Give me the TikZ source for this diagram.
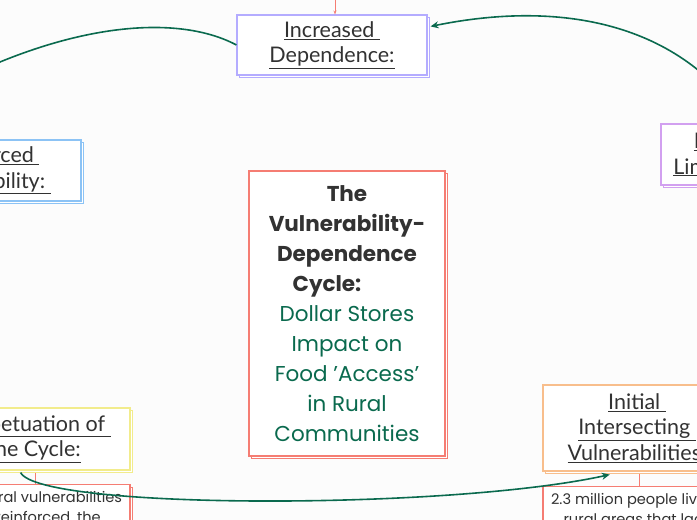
\documentclass[tikz,border=0pt]{standalone}
\usepackage{fontspec}
\setmainfont{Poppins}
\newfontfamily\titlefont{Lato}
\usetikzlibrary{arrows.meta,shadows}
\definecolor{dgreen}{RGB}{10,106,78}
\definecolor{tdark}{RGB}{50,50,50}
\definecolor{clav}{RGB}{180,172,255}
\definecolor{cblue}{RGB}{140,195,245}
\definecolor{cpurple}{RGB}{210,160,240}
\definecolor{csalmon}{RGB}{245,125,115}
\definecolor{cyellow}{RGB}{242,236,140}
\definecolor{corange}{RGB}{248,190,140}
\tikzset{
  box/.style={draw=#1, fill=white, line width=1.1pt,
    copy shadow={draw=#1, fill=white, line width=1.1pt, shadow xshift=2.5pt, shadow yshift=-2.5pt},
    inner sep=0pt, align=center, text=tdark},
  ttl/.style={font=\titlefont\fontsize{21.5}{25.5}\selectfont},
  bodytxt/.style={font=\fontsize{14.6}{20}\selectfont},
  cyc/.style={draw=dgreen, line width=1.6pt},
  redline/.style={draw=csalmon, line width=0.8pt}
}
\begin{document}
\begin{tikzpicture}[x=1pt,y=-1pt]
\useasboundingbox (0,0) rectangle (697,520);
\fill[white!99!black] (0,0) rectangle (697,520);
\clip (0,0) rectangle (697,520);

% boxes
\node[box=clav, ttl, minimum width=190pt, minimum height=60pt] (incdep) at (332,45)
  {\underline{Increased\ }\\\underline{Dependence:}};
\node[box=cblue, ttl, minimum width=190pt, minimum height=61pt] (reinf) at (-14,170.5)
  {\underline{Reinforced\ }\\\underline{Vulnerability:\ }};
\node[box=cpurple, ttl, minimum width=170pt, minimum height=61pt] (limit) at (746,154.5)
  {\underline{Intensified\ }\\\underline{Limited Access:}};
\node[box=csalmon, font=\fontsize{21.5}{30}\selectfont, minimum width=196pt, minimum height=285pt] (center) at (347,313.5)
  {\textbf{The}\\\textbf{Vulnerability-}\\\textbf{Dependence}\\\textbf{Cycle:}\mbox{}\hspace*{40pt}\mbox{}\\
   \textcolor{dgreen}{Dollar Stores}\\\textcolor{dgreen}{Impact on}\\\textcolor{dgreen}{Food 'Access'}\\\textcolor{dgreen}{in Rural}\\\textcolor{dgreen}{Communities}};
\node[box=cyellow, ttl, minimum width=192pt, minimum height=62pt] (perp) at (34,439)
  {\underline{Perpetuation of\ }\\\underline{the Cycle:}};
\node[box=csalmon, bodytxt, anchor=north, minimum width=192pt, minimum height=70pt] (perpbody) at (34,484)
  {\rule{0pt}{18pt}Structural vulnerabilities\\are reinforced, the\\[30pt]};
\node[box=corange, ttl, minimum width=188pt, minimum height=86pt] (init) at (637,428)
  {\underline{Initial\ }\\\underline{Intersecting\ }\\\underline{Vulnerabilities:}};
\node[box=csalmon, bodytxt, anchor=north, minimum width=188pt, minimum height=70pt] (initbody) at (637,486)
  {\rule{0pt}{18pt}2.3 million people live in\\rural areas that lack\\[30pt]};

% red connectors
\coordinate (topsrc) at (335,-10);
\draw[redline, -{Stealth[length=4pt,width=3pt]}] (topsrc) -- ([xshift=3pt]incdep.north);
\draw[redline] ([xshift=1pt,yshift=-2.5pt]perp.south) -- ([xshift=1pt]perpbody.north);
\draw[redline] ([xshift=2pt,yshift=-2.5pt]init.south) -- ([xshift=2pt]initbody.north);

% cycle arrows
\coordinate (reinfIn) at (-40,80);
\draw[cyc, -{Stealth[length=8pt,width=7pt]}] (incdep.west) .. controls (180,15) and (80,22) .. (reinfIn);
\draw[cyc, -{Stealth[length=8pt,width=7pt]}] (limit.north) .. controls (680,22) and (560,0) .. ([xshift=3pt]incdep.11);
\draw[cyc, -{Stealth[length=8pt,width=7pt]}] ([yshift=-2pt]perp.247) .. controls (40,510) and (450,510) .. ([yshift=-3pt]init.238);
\end{tikzpicture}
\end{document}
